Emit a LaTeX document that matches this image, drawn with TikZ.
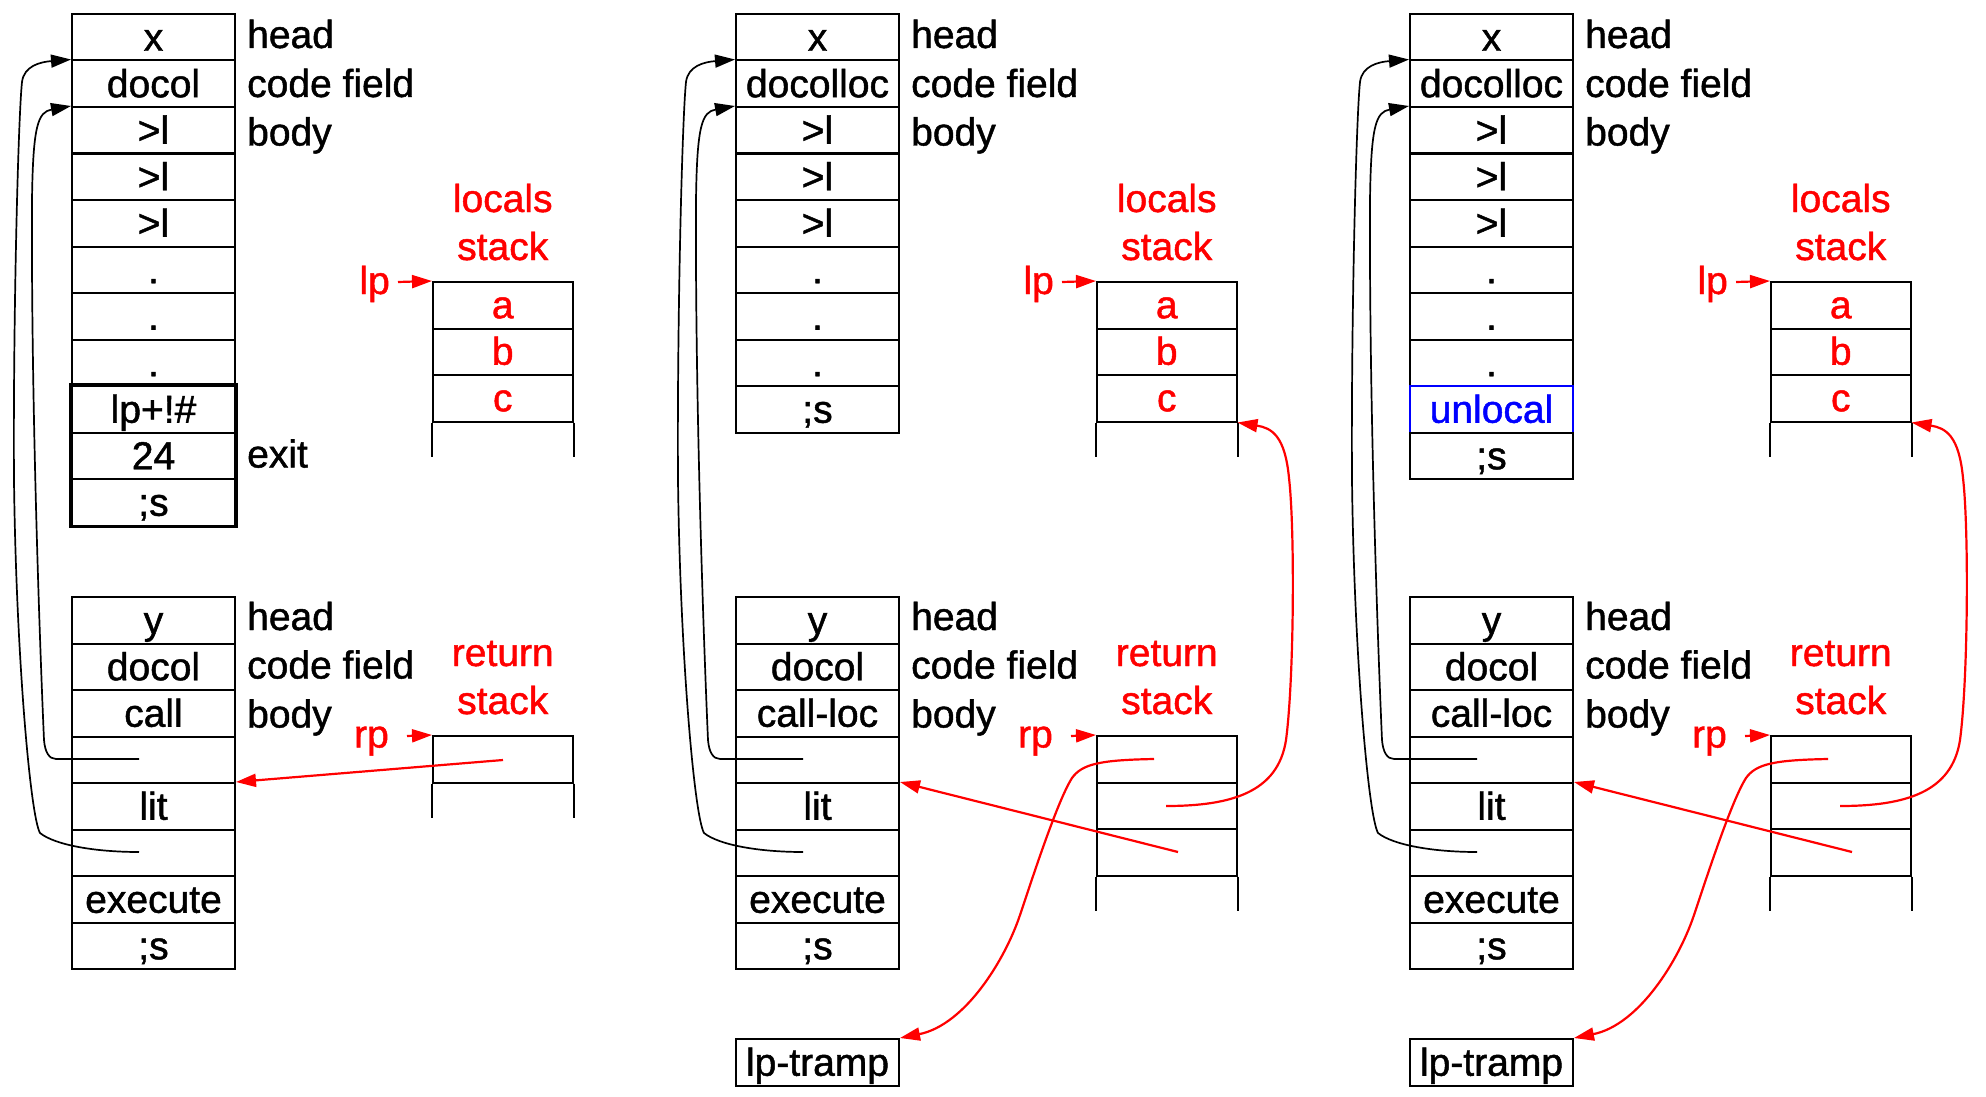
\documentclass[tikz,border=0pt]{standalone}
\usepackage{fontspec}
\setmainfont{Liberation Sans}[FakeBold=1.2]
\usetikzlibrary{arrows.meta}
\newcommand\fs{\fontsize{39}{44}\selectfont}
\tikzset{
  every node/.style={inner sep=0pt, font=\fs},
  cell/.style={draw, line width=2pt, minimum width=163pt, minimum height=46.5pt, text height=32pt, text depth=5pt},
  scell/.style={cell, minimum width=139.5pt, text=red, text height=31pt, text depth=5pt},
  lbl/.style={anchor=base west},
  rlbl/.style={anchor=base, text=red},
  tipb/.style={-{Triangle[length=20pt,width=13pt]}},
  blkcurve/.style={tipb, line width=1.7pt},
  redarr/.style={tipb, red, line width=2.2pt},
  stub/.style={line width=2pt},
}
\newcommand\acell[3]{\node[cell] (#1) at (153.5,{37.25+46.5*#2}) {#3};}
\newcommand\upperlabels[1]{%
  \node[lbl] (#1h) at (247,48) {head};
  \node[lbl] (#1c) at (247,97) {code field};
  \node[lbl] (#1y) at (247,145.5) {body};
}
\newcommand\localstack[1]{%
  \node[rlbl] (#1lt) at (502.75,212) {locals};
  \node[rlbl] (#1ls) at (502.75,260) {stack};
  \node[scell] (#1l0) at (502.75,305.25) {a};
  \node[scell] (#1l1) at (502.75,351.75) {b};
  \node[scell] (#1l2) at (502.75,398.25) {c};
  \draw[stub] (#1l2.south west) -- ++(0,34.5);
  \draw[stub] (#1l2.south east) -- ++(0,34.5);
  \node[anchor=base east,text=red] (#1lp) at (390,294) {lp};
  \coordinate (#1lpa) at (398,282);
  \draw[redarr] (#1lpa) -- (#1l0.north west);
}
\newcommand\lowercol[2]{%
  \node[cell] (#1b0) at (153.5,620.25) {y};
  \node[cell] (#1b1) at (153.5,666.75) {docol};
  \node[cell] (#1b2) at (153.5,713.25) {#2};
  \node[cell] (#1b3) at (153.5,759.75) {};
  \node[cell] (#1b4) at (153.5,806.25) {lit};
  \node[cell] (#1b5) at (153.5,852.75) {};
  \node[cell] (#1b6) at (153.5,899.25) {execute};
  \node[cell] (#1b7) at (153.5,945.75) {;s};
  \node[lbl] (#1bh) at (247,630) {head};
  \node[lbl] (#1bc) at (247,678.5) {code field};
  \node[lbl] (#1by) at (247,727.5) {body};
  \coordinate (#1s1) at (139,759);
  \coordinate (#1s2) at (139,852);
  \draw[blkcurve] (#1s1) -- (56,759) .. controls (49,759) and (45,752) .. (44,740)
     .. controls (40,650) and (31,400) .. (32,200)
     .. controls (33,125) and (38,112) .. (#1a2.north west);
  \draw[blkcurve] (#1s2) .. controls (95,852) and (55,845) .. (40,833)
     .. controls (30,815) and (16,650) .. (14,480)
     .. controls (13,330) and (18,120) .. (22,82)
     .. controls (24,66) and (40,62) .. (#1a1.north west);
}
\newcommand\retstack[2]{%
  \node[rlbl] (#1rt) at (502.75,666) {return};
  \node[rlbl] (#1rs) at (502.75,714) {stack};
  \foreach \i in {0,...,#2} \node[scell] (#1r\i) at (502.75,{759.25+46.5*\i}) {};
  \draw[stub] (#1r#2.south west) -- ++(0,34.5);
  \draw[stub] (#1r#2.south east) -- ++(0,34.5);
  \node[anchor=base east,text=red] (#1rp) at (389,747.5) {rp};
  \coordinate (#1rpa) at (407,736);
  \draw[redarr] (#1rpa) -- (#1r0.north west);
}
\newcommand\redcurves[1]{%
  \node[cell] (#1t) at (153.5,1062.25) {lp-tramp};
  \coordinate (#1ra) at (514,852);
  \draw[redarr] (#1ra) -- (#1b4.north east);
  \coordinate (#1rb) at (490,759);
  \draw[redarr] (#1rb) .. controls (436,760) and (418,764) .. (408,778)
     .. controls (394,800) and (371,870) .. (356,915)
     .. controls (341,960) and (301,1025) .. (#1t.north east);
  \coordinate (#1rc) at (502,806);
  \draw[redarr] (#1rc) .. controls (568,806) and (614,792) .. (622,740)
     .. controls (630,680) and (631,530) .. (625,478)
     .. controls (621,436) and (608,428) .. (#1l2.south east);
}
\begin{document}
\begin{tikzpicture}[x=1pt,y=-1pt]
\useasboundingbox (0,0) rectangle (1986,1097);
% ---------- panel 1
\acell{p1a0}{0}{x}
\acell{p1a1}{1}{docol}
\acell{p1a2}{2}{>l}
\acell{p1a3}{3}{>l}
\acell{p1a4}{4}{>l}
\acell{p1a5}{5}{.}
\acell{p1a6}{6}{.}
\acell{p1a7}{7}{.}
\begin{scope}[every node/.append style={line width=2.5pt}]
\acell{p1a8}{8}{lp+!\#}
\acell{p1a9}{9}{24}
\acell{p1a10}{10}{;s}
\end{scope}
\draw[line width=3.5pt] (p1a8.north west) rectangle (p1a10.south east);
\upperlabels{p1}
\node[lbl] (p1ex) at (247,467.5) {exit};
\localstack{p1}
\lowercol{p1}{call}
\retstack{p1}{0}
\coordinate (p1ra) at (503,760);
\draw[redarr] (p1ra) -- (p1b4.north east);
% ---------- panel 2
\begin{scope}[xshift=664pt]
\acell{p2a0}{0}{x}
\acell{p2a1}{1}{docolloc}
\acell{p2a2}{2}{>l}
\acell{p2a3}{3}{>l}
\acell{p2a4}{4}{>l}
\acell{p2a5}{5}{.}
\acell{p2a6}{6}{.}
\acell{p2a7}{7}{.}
\acell{p2a8}{8}{;s}
\upperlabels{p2}
\localstack{p2}
\lowercol{p2}{call-loc}
\retstack{p2}{2}
\redcurves{p2}
\end{scope}
% ---------- panel 3
\begin{scope}[xshift=1338pt]
\acell{p3a0}{0}{x}
\acell{p3a1}{1}{docolloc}
\acell{p3a2}{2}{>l}
\acell{p3a3}{3}{>l}
\acell{p3a4}{4}{>l}
\acell{p3a5}{5}{.}
\acell{p3a6}{6}{.}
\acell{p3a7}{7}{.}
\node[cell, draw=blue, line width=1.3pt, text=blue] (p3a8) at (153.5,409.25) {unlocal};
\acell{p3a9}{9}{;s}
\upperlabels{p3}
\localstack{p3}
\lowercol{p3}{call-loc}
\retstack{p3}{2}
\redcurves{p3}
\end{scope}
\end{tikzpicture}
\end{document}
